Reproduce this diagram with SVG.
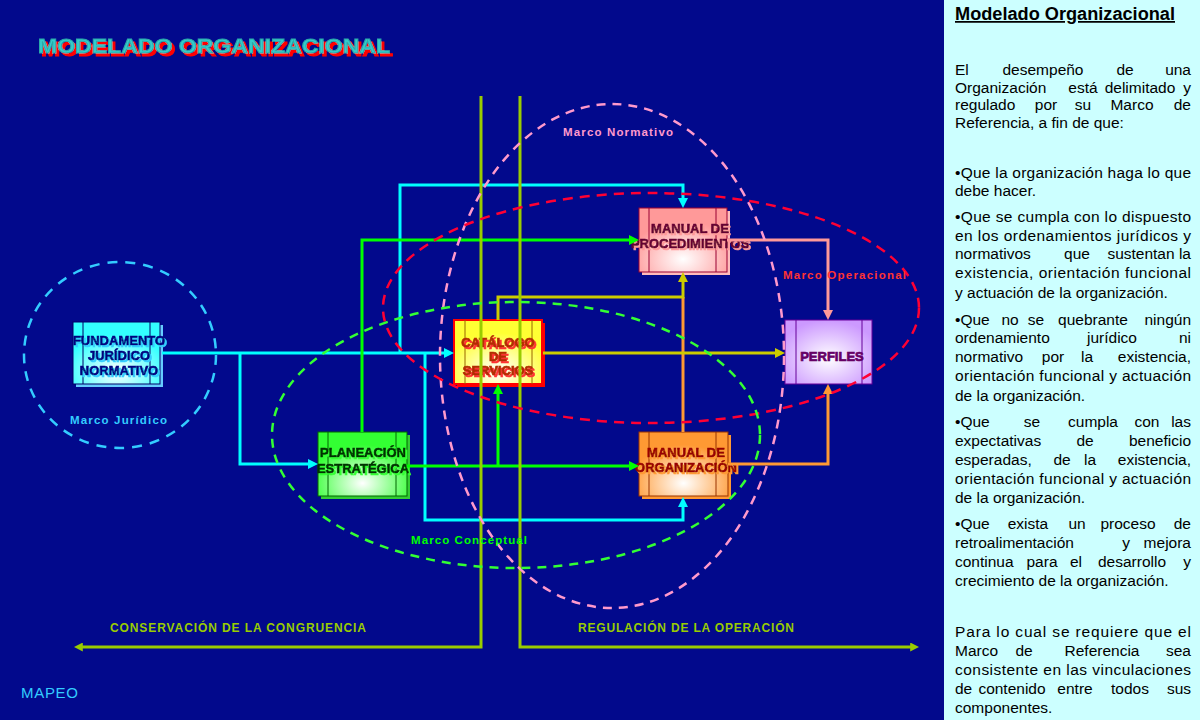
<svg xmlns="http://www.w3.org/2000/svg" width="1200" height="720" viewBox="0 0 1200 720">
<defs>
<style>
.conn{fill:none;stroke-width:3;stroke-linejoin:miter}
.cy{stroke:#00ffff}.gr{stroke:#00ff00}.ye{stroke:#cccc00}.or{stroke:#ff9933}.pk{stroke:#ff9999}.li{stroke:#99cc00}
.frame{fill:none;stroke-width:2.5}
.nt{font-family:"Liberation Sans",Arial,sans-serif;font-weight:bold;font-size:13px;text-anchor:middle;stroke-width:0.7}
.lab{font-family:"Liberation Sans",Arial,sans-serif;font-weight:bold;font-size:11.5px}
.pt{font-family:"Liberation Sans",Arial,sans-serif;font-size:15.5px;fill:#000}
.m{text-anchor:middle}.e{text-anchor:end}
.inner{stroke-width:1}
</style>
<filter id="shRed" x="-10%" y="-30%" width="130%" height="170%"><feFlood flood-color="#ff0000"/><feComposite in2="SourceAlpha" operator="in"/><feOffset dx="2.5" dy="2.5"/><feMerge><feMergeNode/><feMergeNode in="SourceGraphic"/></feMerge></filter>
<filter id="shCy" x="-10%" y="-10%" width="130%" height="130%"><feFlood flood-color="#33ccff"/><feComposite in2="SourceAlpha" operator="in"/><feOffset dx="1.5" dy="1.5"/><feMerge><feMergeNode/><feMergeNode in="SourceGraphic"/></feMerge></filter>
<filter id="shRd2" x="-10%" y="-10%" width="130%" height="130%"><feFlood flood-color="#ff3333"/><feComposite in2="SourceAlpha" operator="in"/><feOffset dx="1.5" dy="1.5"/><feMerge><feMergeNode/><feMergeNode in="SourceGraphic"/></feMerge></filter>
<filter id="shPk" x="-10%" y="-10%" width="130%" height="130%"><feFlood flood-color="#ff9999"/><feComposite in2="SourceAlpha" operator="in"/><feOffset dx="1.5" dy="1.5"/><feMerge><feMergeNode/><feMergeNode in="SourceGraphic"/></feMerge></filter>
<filter id="shOr" x="-10%" y="-10%" width="130%" height="130%"><feFlood flood-color="#ff9933"/><feComposite in2="SourceAlpha" operator="in"/><feOffset dx="1.5" dy="1.5"/><feMerge><feMergeNode/><feMergeNode in="SourceGraphic"/></feMerge></filter>
<filter id="shGr" x="-10%" y="-10%" width="130%" height="130%"><feFlood flood-color="#33ff33"/><feComposite in2="SourceAlpha" operator="in"/><feOffset dx="1.5" dy="1.5"/><feMerge><feMergeNode/><feMergeNode in="SourceGraphic"/></feMerge></filter>
<marker id="aCy" viewBox="0 0 10 10" refX="2" refY="5" markerWidth="10" markerHeight="10" markerUnits="userSpaceOnUse" orient="auto"><path d="M0,0 L10,5 L0,10 z" fill="#00ffff"/></marker>
<marker id="aGr" viewBox="0 0 10 10" refX="2" refY="5" markerWidth="10" markerHeight="10" markerUnits="userSpaceOnUse" orient="auto"><path d="M0,0 L10,5 L0,10 z" fill="#00ff00"/></marker>
<marker id="aYe" viewBox="0 0 10 10" refX="2" refY="5" markerWidth="10" markerHeight="10" markerUnits="userSpaceOnUse" orient="auto"><path d="M0,0 L10,5 L0,10 z" fill="#cccc00"/></marker>
<marker id="aOr" viewBox="0 0 10 10" refX="2" refY="5" markerWidth="10" markerHeight="10" markerUnits="userSpaceOnUse" orient="auto"><path d="M0,0 L10,5 L0,10 z" fill="#ff9933"/></marker>
<marker id="aPk" viewBox="0 0 10 10" refX="2" refY="5" markerWidth="10" markerHeight="10" markerUnits="userSpaceOnUse" orient="auto"><path d="M0,0 L10,5 L0,10 z" fill="#ff9999"/></marker>
<marker id="aLi" viewBox="0 0 10 10" refX="2" refY="5" markerWidth="9" markerHeight="9" markerUnits="userSpaceOnUse" orient="auto"><path d="M0,0 L10,5 L0,10 z" fill="#99cc00"/></marker>
<radialGradient id="gCy" cx="0.5" cy="0.8" r="0.6"><stop offset="0" stop-color="#ffffff"/><stop offset="1" stop-color="#33ffff"/></radialGradient>
<radialGradient id="gYe" cx="0.5" cy="0.8" r="0.6"><stop offset="0" stop-color="#ffffff"/><stop offset="1" stop-color="#ffff33"/></radialGradient>
<radialGradient id="gPk" cx="0.5" cy="0.8" r="0.6"><stop offset="0" stop-color="#ffffff"/><stop offset="1" stop-color="#ff9999"/></radialGradient>
<radialGradient id="gPu" cx="0.5" cy="0.6" r="0.6"><stop offset="0" stop-color="#ffffff"/><stop offset="1" stop-color="#cc99ff"/></radialGradient>
<radialGradient id="gOr" cx="0.5" cy="0.8" r="0.6"><stop offset="0" stop-color="#ffffff"/><stop offset="1" stop-color="#ff9933"/></radialGradient>
<radialGradient id="gGr" cx="0.5" cy="0.8" r="0.6"><stop offset="0" stop-color="#ffffff"/><stop offset="1" stop-color="#33ff33"/></radialGradient>
</defs>

<rect x="0" y="0" width="1200" height="720" fill="#02098c"/>
<rect x="944" y="0" width="256" height="720" fill="#ccffff"/>

<text id="title" x="38" y="53" font-family="'Liberation Sans',Arial,sans-serif" font-weight="bold" font-size="21" fill="#33cccc" stroke="#2aa8a8" stroke-width="1" textLength="352" lengthAdjust="spacingAndGlyphs" filter="url(#shRed)">MODELADO ORGANIZACIONAL</text>

<g id="fundamento">
<rect x="76" y="325" width="87" height="62" fill="#66ccff"/>
<rect x="73" y="322" width="87" height="62" fill="url(#gCy)" stroke="#000066" stroke-width="1"/>
<line class="inner" x1="83" y1="322" x2="83" y2="384" stroke="#000066"/>
<line class="inner" x1="150" y1="322" x2="150" y2="384" stroke="#000066"/>
<g class="nt" fill="#000080" stroke="#000080" filter="url(#shCy)"><text x="119" y="345">FUNDAMENTO</text><text x="119" y="360">JURÍDICO</text><text x="119" y="375">NORMATIVO</text></g>
</g>

<g id="catalogo">
<rect x="457" y="323" width="88" height="64" fill="#ff0000"/>
<rect x="454" y="320" width="88" height="64" fill="url(#gYe)" stroke="#ff0000" stroke-width="2"/>
<line class="inner" x1="465" y1="320" x2="465" y2="384" stroke="#996600"/>
<line class="inner" x1="532" y1="320" x2="532" y2="384" stroke="#996600"/>
<g class="nt" fill="#b32d00" stroke="#b32d00" filter="url(#shRd2)"><text x="498" y="347">CATÁLOGO</text><text x="498" y="361">DE</text><text x="498" y="375">SERVICIOS</text></g>
</g>

<g id="manual-procedimientos">
<rect x="642" y="211" width="88" height="64" fill="#ffbbbb"/>
<rect x="639" y="208" width="88" height="64" fill="url(#gPk)" stroke="#990033" stroke-width="1"/>
<line class="inner" x1="649" y1="208" x2="649" y2="272" stroke="#990033"/>
<line class="inner" x1="716" y1="208" x2="716" y2="272" stroke="#990033"/>
<g class="nt" fill="#660033" stroke="#660033" filter="url(#shPk)"><text x="690" y="233">MANUAL DE</text><text x="690" y="248">PROCEDIMIENTOS</text></g>
</g>

<g id="perfiles">
<rect x="785" y="320" width="87" height="64" fill="url(#gPu)" stroke="#660099" stroke-width="1"/>
<line class="inner" x1="796" y1="320" x2="796" y2="384" stroke="#660099"/>
<line class="inner" x1="862" y1="320" x2="862" y2="384" stroke="#660099"/>
<text class="nt" x="832" y="361" fill="#660066" stroke="#660066" stroke-width="0.4">PERFILES</text>
</g>

<g id="manual-organizacion">
<rect x="642" y="435" width="89" height="64" fill="#ff9933"/>
<rect x="639" y="432" width="89" height="64" fill="url(#gOr)" stroke="#993300" stroke-width="1"/>
<line class="inner" x1="649" y1="432" x2="649" y2="496" stroke="#993300"/>
<line class="inner" x1="716" y1="432" x2="716" y2="496" stroke="#993300"/>
<g class="nt" fill="#990000" stroke="#990000" filter="url(#shOr)"><text x="686" y="457">MANUAL DE</text><text x="686" y="472">ORGANIZACIÓN</text></g>
</g>

<g id="planeacion">
<rect x="321" y="435" width="89" height="64" fill="#33cc33"/>
<rect x="318" y="432" width="89" height="64" fill="url(#gGr)" stroke="#006600" stroke-width="1"/>
<line class="inner" x1="328" y1="432" x2="328" y2="496" stroke="#006600"/>
<line class="inner" x1="396" y1="432" x2="396" y2="496" stroke="#006600"/>
<g class="nt" fill="#003300" stroke="#003300" filter="url(#shGr)"><text x="363" y="457">PLANEACIÓN</text><text x="363" y="473">ESTRATÉGICA</text></g>
</g>

<g id="connectors">
<path class="conn cy" d="M162,353 H446" marker-end="url(#aCy)"/>
<path class="conn cy" d="M240,353 V464 H310" marker-end="url(#aCy)"/>
<path class="conn cy" d="M400,353 V185 H683 V200" marker-end="url(#aCy)"/>
<path class="conn cy" d="M425,353 V520 H683 V505" marker-end="url(#aCy)"/>
<path class="conn gr" d="M362,432 V240 H631" marker-end="url(#aGr)"/>
<path class="conn gr" d="M407,466 H631" marker-end="url(#aGr)"/>
<path class="conn gr" d="M498,466 V392" marker-end="url(#aGr)"/>
<path class="conn or" d="M683,432 V297"/>
<path class="conn or" d="M728,464 H828 V392" marker-end="url(#aOr)"/>
<path class="conn ye" d="M543,353 H777" marker-end="url(#aYe)"/>
<path class="conn ye" d="M498,320 V297 H683 V280" marker-end="url(#aYe)"/>
<path class="conn pk" d="M727,240 H828 V312" marker-end="url(#aPk)"/>
<path class="conn li" d="M481,96 V647 H81" marker-end="url(#aLi)"/>
<path class="conn li" d="M520,96 V647 H912" marker-end="url(#aLi)"/>
</g>

<g id="frames">
<ellipse class="frame" cx="120" cy="355" rx="96" ry="93" stroke="#33ccff" stroke-width="3" stroke-dasharray="10 8"/>
<ellipse class="frame" cx="612" cy="356" rx="172" ry="252" stroke="#ff99cc" stroke-dasharray="9 7"/>
<ellipse class="frame" cx="651" cy="308" rx="268" ry="115" stroke="#ff0033" stroke-dasharray="10 7"/>
<ellipse class="frame" cx="516" cy="435" rx="244" ry="133" stroke="#33ff33" stroke-dasharray="9 7"/>
<text class="lab" x="70" y="424" fill="#33ccff" textLength="97">Marco Jurídico</text>
<text class="lab" x="563" y="136" fill="#ff99cc" textLength="110">Marco Normativo</text>
<text class="lab" x="783" y="279" fill="#ff3333" textLength="123">Marco Operacional</text>
<text class="lab" x="411" y="544" fill="#00ff00" textLength="116">Marco Conceptual</text>
</g>

<g id="axis-labels" font-family="'Liberation Sans',Arial,sans-serif" font-weight="bold" font-size="12" fill="#99cc00">
<text x="110" y="632" textLength="256">CONSERVACIÓN DE LA CONGRUENCIA</text>
<text x="578" y="632" textLength="216">REGULACIÓN DE LA OPERACIÓN</text>
</g>
<text x="21" y="698" font-family="'Liberation Sans',Arial,sans-serif" font-size="15" fill="#33ccff" textLength="57">MAPEO</text>

<g id="panel">
<text x="955" y="20" font-family="'Liberation Sans',Arial,sans-serif" font-weight="bold" font-size="17.5" fill="#000" text-decoration="underline" textLength="220" lengthAdjust="spacingAndGlyphs">Modelado Organizacional</text>
<g class="pt">
<text x="955" y="75">El</text><text class="m" x="1043" y="75">desempeño</text><text class="m" x="1125" y="75">de</text><text class="e" x="1191" y="75">una</text>
<text x="955" y="93">Organización</text><text class="m" x="1083" y="93">está</text><text class="m" x="1140" y="93">delimitado</text><text class="e" x="1191" y="93">y</text>
<text x="955" y="110">regulado</text><text class="m" x="1046" y="110">por</text><text class="m" x="1083" y="110">su</text><text class="m" x="1132" y="110">Marco</text><text class="e" x="1191" y="110">de</text>
<text x="955" y="128">Referencia, a fin de que:</text>

<text x="955" y="178" textLength="236" lengthAdjust="spacing">•Que la organización haga lo que</text>
<text x="955" y="196">debe hacer.</text>
<text x="955" y="222" textLength="236" lengthAdjust="spacing">•Que se cumpla con lo dispuesto</text>
<text x="955" y="241" textLength="236" lengthAdjust="spacing">en los ordenamientos jurídicos y</text>
<text x="955" y="259">normativos</text><text class="m" x="1077" y="259">que</text><text class="m" x="1141" y="259">sustentan</text><text class="e" x="1191" y="259">la</text>
<text x="955" y="278" textLength="236" lengthAdjust="spacing">existencia, orientación funcional</text>
<text x="955" y="298">y actuación de la organización.</text>

<text x="955" y="325">•Que</text><text class="m" x="1010" y="325">no</text><text class="m" x="1036" y="325">se</text><text class="m" x="1093" y="325">quebrante</text><text class="e" x="1191" y="325">ningún</text>
<text x="955" y="343">ordenamiento</text><text class="m" x="1112" y="343">jurídico</text><text class="e" x="1191" y="343">ni</text>
<text x="955" y="362">normativo</text><text class="m" x="1053" y="362">por</text><text class="m" x="1087" y="362">la</text><text class="e" x="1191" y="362">existencia,</text>
<text x="955" y="381" textLength="236" lengthAdjust="spacing">orientación funcional y actuación</text>
<text x="955" y="401">de la organización.</text>

<text x="955" y="427">•Que</text><text class="m" x="1032" y="427">se</text><text class="m" x="1093" y="427">cumpla</text><text class="m" x="1147" y="427">con</text><text class="e" x="1191" y="427">las</text>
<text x="955" y="446">expectativas</text><text class="m" x="1085" y="446">de</text><text class="e" x="1191" y="446">beneficio</text>
<text x="955" y="465">esperadas,</text><text class="m" x="1062" y="465">de</text><text class="m" x="1090" y="465">la</text><text class="e" x="1191" y="465">existencia,</text>
<text x="955" y="484" textLength="236" lengthAdjust="spacing">orientación funcional y actuación</text>
<text x="955" y="503">de la organización.</text>

<text x="955" y="529">•Que</text><text class="m" x="1028" y="529">exista</text><text class="m" x="1077" y="529">un</text><text class="m" x="1128" y="529">proceso</text><text class="e" x="1191" y="529">de</text>
<text x="955" y="548">retroalimentación</text><text class="m" x="1126" y="548">y</text><text class="e" x="1191" y="548">mejora</text>
<text x="955" y="567">continua</text><text class="m" x="1042" y="567">para</text><text class="m" x="1076" y="567">el</text><text class="m" x="1132" y="567">desarrollo</text><text class="e" x="1191" y="567">y</text>
<text x="955" y="586">crecimiento de la organización.</text>

<text x="955" y="637" textLength="236" lengthAdjust="spacing">Para lo cual se requiere que el</text>
<text x="955" y="656">Marco</text><text class="m" x="1024" y="656">de</text><text class="m" x="1102" y="656">Referencia</text><text class="e" x="1191" y="656">sea</text>
<text x="955" y="675" textLength="236" lengthAdjust="spacing">consistente en las vinculaciones</text>
<text x="955" y="694">de</text><text class="m" x="1012" y="694">contenido</text><text class="m" x="1075" y="694">entre</text><text class="m" x="1130" y="694">todos</text><text class="e" x="1191" y="694">sus</text>
<text x="955" y="713">componentes.</text>
</g>
</g>
</svg>
